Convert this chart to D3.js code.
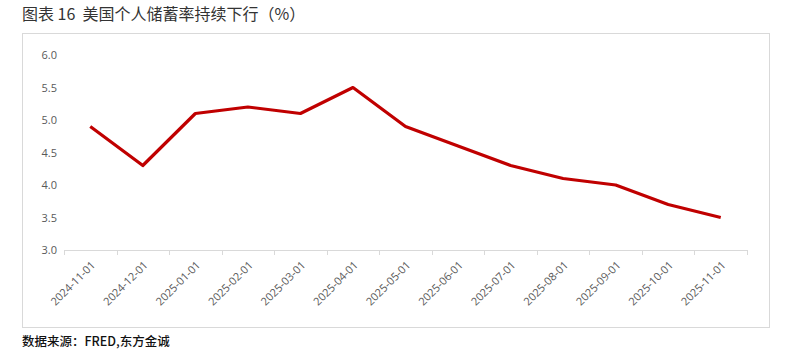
<!DOCTYPE html>
<html>
<head>
<meta charset="utf-8">
<script src="https://cdn.jsdelivr.net/npm/d3@7"></script>
<style>
  body { margin: 0; background: #fff; font-family: "Noto Sans CJK SC", "Microsoft YaHei", sans-serif; }
</style>
</head>
<body>
<div id="container"></div>
<script>
/* DATA */
const dates = ["2024-11-01", "2024-12-01", "2025-01-01", "2025-02-01", "2025-03-01", "2025-04-01",
  "2025-05-01", "2025-06-01", "2025-07-01", "2025-08-01", "2025-09-01", "2025-10-01", "2025-11-01"]
const savingRate = [4.9, 4.3, 5.1, 5.2, 5.1, 5.5, 4.9, 4.6, 4.3, 4.1, 4.0, 3.7, 3.5]
const yTicks = [3.0, 3.5, 4.0, 4.5, 5.0, 5.5, 6.0]

const W = 786, H = 351
const plot = {left: 64, right: 747, top: 55, bottom: 250}

const svg = d3.select("#container")
  .append("svg")
    .attr("width", W)
    .attr("height", H)

// title
svg.append("text")
  .attr("x", 22).attr("y", 20)
  .attr("font-size", 16)
  .attr("fill", "#333")
  .style("white-space", "pre")
  .text("图表 16  美国个人储蓄率持续下行（%）")

// frame
svg.append("rect")
  .attr("x", 22.5).attr("y", 33.5)
  .attr("width", 747).attr("height", 294)
  .attr("fill", "none")
  .attr("stroke", "#d9d9d9")

// SCALES
const xScale = d3.scaleBand()
  .domain(dates)
  .range([plot.left, plot.right])

const yScale = d3.scaleLinear()
  .domain([3.0, 6.0])
  .range([plot.bottom, plot.top])

// y axis (labels only)
const yAxis = svg.append("g")
  .attr("transform", `translate(${plot.left},0)`)
  .call(d3.axisLeft(yScale).tickValues(yTicks).tickFormat(d3.format(".1f")).tickSize(0).tickPadding(7))
yAxis.select(".domain").remove()
yAxis.selectAll("text")
  .attr("font-family", "Open Sans, sans-serif")
  .attr("font-size", 11)
  .attr("fill", "#595959")

// x axis
const xAxis = svg.append("g")
  .attr("transform", `translate(0,${plot.bottom})`)
  .call(d3.axisBottom(xScale).tickSize(0).tickPadding(0))
xAxis.select(".domain").attr("stroke", "#d9d9d9")
xAxis.selectAll(".tick text")
  .attr("font-family", "Open Sans, sans-serif")
  .attr("font-size", 11)
  .attr("fill", "#595959")
  .attr("text-anchor", "end")
  .attr("dy", "0.35em")
  .attr("transform", "translate(3,13) rotate(-45)")

// tick marks at band boundaries
const bounds = dates.map(d => xScale(d)).concat([plot.right])
svg.append("g")
  .selectAll("line")
  .data(bounds)
  .join("line")
    .attr("x1", d => Math.round(d) + 0.5)
    .attr("x2", d => Math.round(d) + 0.5)
    .attr("y1", plot.bottom)
    .attr("y2", plot.bottom + 5)
    .attr("stroke", "#d9d9d9")

// LINE
const data = dates.map((d, i) => ({date: d, value: savingRate[i]}))
const line = d3.line()
  .x(d => xScale(d.date) + xScale.bandwidth() / 2)
  .y(d => yScale(d.value))

svg.append("path")
  .datum(data)
  .attr("fill", "none")
  .attr("stroke", "#C00000")
  .attr("stroke-width", 3.2)
  .attr("stroke-linejoin", "round")
  .attr("d", line)

// source
svg.append("text")
  .attr("x", 22).attr("y", 346)
  .attr("font-size", 12.5)
  .attr("font-weight", 500)
  .attr("fill", "#111")
  .text("数据来源：FRED,东方金诚")
</script>
</body>
</html>
